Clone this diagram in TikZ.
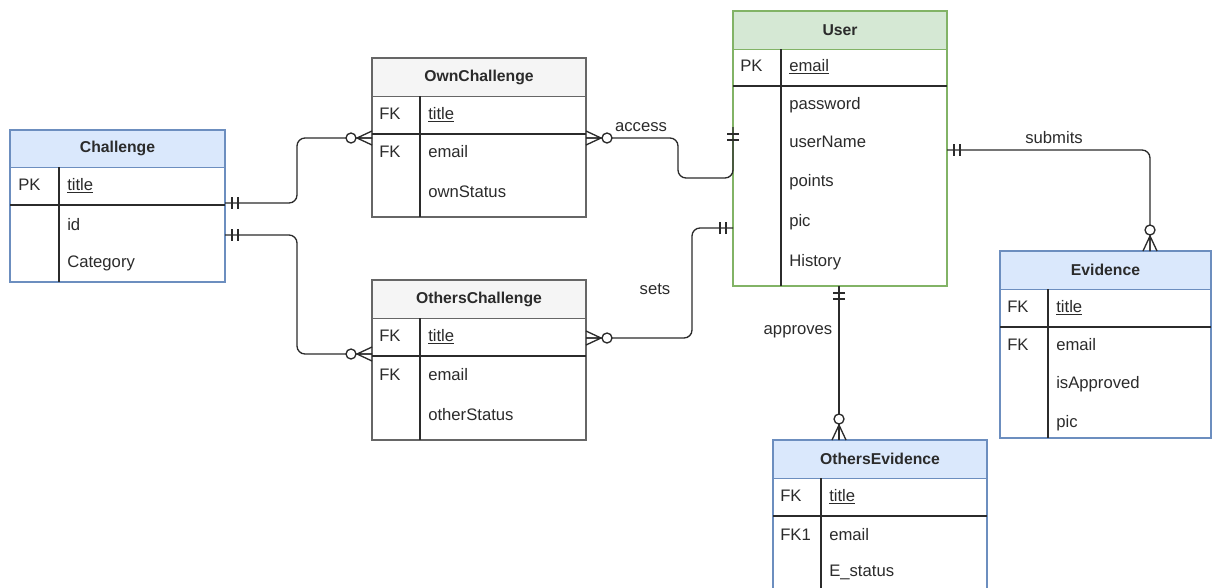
\documentclass[tikz,border=0pt]{standalone}
\usepackage{fontspec}
\setmainfont{Liberation Sans}
\usetikzlibrary{fit}

\definecolor{hdrblue}{HTML}{DAE8FC}
\definecolor{lineblue}{HTML}{6C8EBF}
\definecolor{hdrgreen}{HTML}{D5E8D4}
\definecolor{linegreen}{HTML}{82B366}
\definecolor{hdrgray}{HTML}{F5F5F5}
\definecolor{linegray}{HTML}{666666}
\definecolor{ink}{HTML}{2B2B2B}

\newcommand\rowfont{\fontsize{12.5}{15}\selectfont}
\newcommand\hdrfont{\fontsize{11.8}{14}\selectfont\bfseries}

\begin{document}
\begin{tikzpicture}[x=0.75pt,y=0.75pt,yscale=-1,
  hdr/.style={fill=#1, inner sep=0pt},
  tblbox/.style={draw=#1, line width=0.8pt, inner sep=0pt},
  rowline/.style={draw=ink, line width=0.9pt},
  hdrtxt/.style={inner sep=0pt, text=ink, font=\hdrfont},
  celltxt/.style={anchor=west, inner sep=0pt, text height=9pt, text depth=2.5pt, text=ink, font=\rowfont},
  rel/.style={draw=ink, line width=1pt, rounded corners=6pt},
  zmany/.pic={\draw[ink, line width=1pt] (0,-7) -- (-15,0) -- (0,7) (0,0) -- (-15,0);
              \draw[ink, line width=1pt, fill=white] (-21,0) circle (5);},
  mone/.pic={\draw[ink, line width=1pt] (-7,-6) -- (-7,6) (-13,-6) -- (-13,6);}
]
\useasboundingbox (0,0) rectangle (1212,587);

%Table: Challenge
\node[hdr=hdrblue, fit={(10,130) (225,167)}] (chalH) {};
\node[tblbox=lineblue, fit={(10,130) (225,282)}] (chal) {};
\draw[lineblue, line width=0.8pt] (chalH.south west) -- (chalH.south east);
\draw[rowline] (10,205) -- (225,205);
\draw[rowline] (59,167) -- (59,282);
% Text Node
\node[hdrtxt] (chalT) at (chalH) {Challenge};
\node[celltxt] (chalK1) at (18,186) {PK};
\foreach \y/\v [count=\i] in {186/\underline{title}, 226/id, 263/Category}
  \node[celltxt] (chalV\i) at (67,\y) {\v};

%Table: OwnChallenge
\node[hdr=hdrgray, fit={(372,58) (586,96)}] (ownH) {};
\node[tblbox=linegray, fit={(372,58) (586,217)}] (own) {};
\draw[linegray, line width=0.8pt] (ownH.south west) -- (ownH.south east);
\draw[rowline] (372,134) -- (586,134);
\draw[rowline] (420,96) -- (420,217);
% Text Node
\node[hdrtxt] (ownT) at (ownH) {OwnChallenge};
\node[celltxt] (ownK1) at (379,115) {FK};
\node[celltxt] (ownK2) at (379,153) {FK};
\foreach \y/\v [count=\i] in {115/\underline{title}, 153/email, 193/ownStatus}
  \node[celltxt] (ownV\i) at (428,\y) {\v};

%Table: OthersChallenge
\node[hdr=hdrgray, fit={(372,280) (586,318)}] (othH) {};
\node[tblbox=linegray, fit={(372,280) (586,440)}] (oth) {};
\draw[linegray, line width=0.8pt] (othH.south west) -- (othH.south east);
\draw[rowline] (372,356) -- (586,356);
\draw[rowline] (420,318) -- (420,440);
% Text Node
\node[hdrtxt] (othT) at (othH) {OthersChallenge};
\node[celltxt] (othK1) at (379,337) {FK};
\node[celltxt] (othK2) at (379,376) {FK};
\foreach \y/\v [count=\i] in {337/\underline{title}, 376/email, 416/otherStatus}
  \node[celltxt] (othV\i) at (428,\y) {\v};

%Table: User
\node[hdr=hdrgreen, fit={(733,11) (947,49)}] (userH) {};
\node[tblbox=linegreen, fit={(733,11) (947,286)}] (user) {};
\draw[linegreen, line width=0.8pt] (userH.south west) -- (userH.south east);
\draw[rowline] (733,86) -- (947,86);
\draw[rowline] (781,49) -- (781,286);
% Text Node
\node[hdrtxt] (userT) at (userH) {User};
\node[celltxt] (userK1) at (740,67) {PK};
\foreach \y/\v [count=\i] in {67/\underline{email}, 105/password, 143/userName, 182/points, 222/pic, 262/History}
  \node[celltxt] (userV\i) at (789,\y) {\v};

%Table: Evidence
\node[hdr=hdrblue, fit={(1000,251) (1211,289)}] (evH) {};
\node[tblbox=lineblue, fit={(1000,251) (1211,438)}] (ev) {};
\draw[lineblue, line width=0.8pt] (evH.south west) -- (evH.south east);
\draw[rowline] (1000,327) -- (1211,327);
\draw[rowline] (1048,289) -- (1048,438);
% Text Node
\node[hdrtxt] (evT) at (evH) {Evidence};
\node[celltxt] (evK1) at (1007,308) {FK};
\node[celltxt] (evK2) at (1007,346) {FK};
\foreach \y/\v [count=\i] in {308/\underline{title}, 346/email, 384/isApproved, 423/pic}
  \node[celltxt] (evV\i) at (1056,\y) {\v};

%Table: OthersEvidence
\node[hdr=hdrblue, fit={(773,440) (987,478)}] (oevH) {};
\node[tblbox=lineblue, fit={(773,440) (987,600)}] (oev) {};
\draw[lineblue, line width=0.8pt] (oevH.south west) -- (oevH.south east);
\draw[rowline] (773,516) -- (987,516);
\draw[rowline] (821,478) -- (821,600);
% Text Node
\node[hdrtxt] (oevT) at (oevH) {OthersEvidence};
\node[celltxt] (oevK1) at (780,497) {FK};
\node[celltxt] (oevK2) at (780,536) {FK1};
\foreach \y/\v [count=\i] in {497/\underline{title}, 536/email, 572/E\_status}
  \node[celltxt] (oevV\i) at (829,\y) {\v};

%Relation ends
\coordinate (chalA) at (225,203);
\coordinate (chalB) at (225,235);
\coordinate (ownL) at (372,138);
\coordinate (ownR) at (586,138);
\coordinate (othL) at (372,354);
\coordinate (othR) at (586,338);
\coordinate (userA) at (733,127);
\coordinate (userS) at (733,228);
\coordinate (userR) at (947,150);
\coordinate (userB) at (839,286);
\coordinate (evTop) at (1150,251);
\coordinate (oevTop) at (839,440);

%Relations
\draw[rel] (chalA) -| (297,138) -- (ownL);
\draw[rel] (chalB) -| (297,354) -- (othL);
\draw[rel] (ownR) -| (678,178) -| (userA);
\draw[rel] (othR) -| (692,228) -- (userS);
\draw[rel] (userR) -| (evTop);
\draw[rel] (userB) -- (oevTop);

%Markers
\pic[rotate=180] at (chalA) {mone};
\pic[rotate=180] at (chalB) {mone};
\pic at (ownL) {zmany};
\pic at (othL) {zmany};
\pic[rotate=180] at (ownR) {zmany};
\pic[rotate=180] at (othR) {zmany};
\pic[rotate=90] at (userA) {mone};
\pic at (userS) {mone};
\pic[rotate=180] at (userR) {mone};
\pic[rotate=90] at (userB) {mone};
\pic[rotate=-90] at (evTop) {zmany};
\pic[rotate=-90] at (oevTop) {zmany};

% Text Node
\node[text=ink, font=\rowfont] (accessL) at (641,127) {access};
\node[text=ink, font=\rowfont] (setsL) at (655,289) {sets};
\node[text=ink, font=\rowfont] (submitsL) at (1054,138) {submits};
\node[text=ink, font=\rowfont] (approvesL) at (798,332) {approves};

\end{tikzpicture}
\end{document}
